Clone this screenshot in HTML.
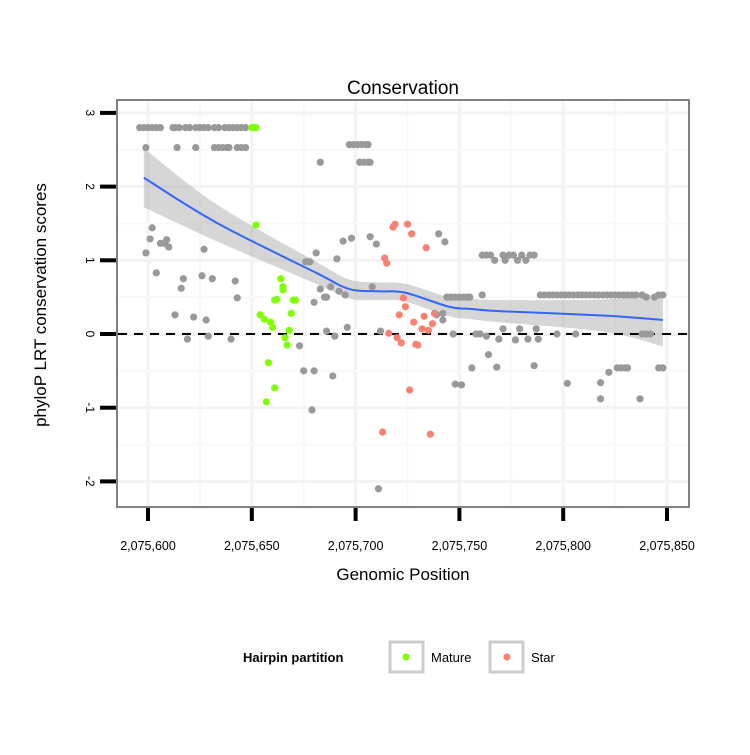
<!DOCTYPE html>
<html><head><meta charset="utf-8"><style>
body{margin:0;background:#fff;}
svg text{font-family:"Liberation Sans",sans-serif;}
</style></head><body>
<svg id="chart" width="750" height="750" viewBox="0 0 750 750" xmlns="http://www.w3.org/2000/svg">
<rect width="750" height="750" fill="#fff"/>
<text x="403" y="94" font-size="19" text-anchor="middle">Conservation</text>
<g id="grid"></g>
<g id="ribbon-g"></g>
<line id="zero" stroke="#000" stroke-width="2" stroke-dasharray="9,7"/>
<g id="points"></g>
<g id="line-g"></g>
<rect x="117" y="100" width="572" height="407" fill="none" stroke="#808080" stroke-width="2"/>
<g id="axes"></g>
<text x="403" y="580" font-size="17" text-anchor="middle">Genomic Position</text>
<text x="46" y="305" font-size="17" text-anchor="middle" transform="rotate(-90 46 305)">phyloP LRT conservation scores</text>
<g>
<text x="243" y="662" font-size="13" font-weight="bold">Hairpin partition</text>
<rect x="390" y="642" width="33" height="30" fill="#fff" stroke="#ccc" stroke-width="3"/>
<circle cx="406" cy="657" r="3.5" fill="#7FFF00"/>
<text x="431" y="662" font-size="13">Mature</text>
<rect x="490" y="642" width="33" height="30" fill="#fff" stroke="#ccc" stroke-width="3"/>
<circle cx="507" cy="657" r="3.5" fill="#FA8072"/>
<text x="531" y="662" font-size="13">Star</text>
</g>
</svg>
<script>
const X0 = 2075600;
const xTicks = [0,50,100,150,200,250];
const xTickLabels = ["2,075,600","2,075,650","2,075,700","2,075,750","2,075,800","2,075,850"];
const yTicks = [-2,-1,0,1,2,3];
const yTickLabels = ["-2","-1","0","1","2","3"];
const grayX = [-4,-2,0,2,4,6,12,13,15,18,20,23,25,27,29,32,34,37,39,41,43,45,47,
 -1,14,23,32,34,36,38,39,43,45,47, 97,99,101,103,105,106, 83,102,104,106,107,
 2,1,9,10,8,6,-1,27,4,17,16,26,31,42,43,13,22,28,19,29,40,
 81,91,94,98,76,78,83,88,92,95,80,85,86,86,90,96,73,75,80,89,79,
 107,110,108,112,111,140,143,139,142,142,
 144,146,148,150,152,154,155,161,
 161,163,165,167,171,172,174,176,178,180,182,184,186,
 147,158,160,163,169,171,177,179,183,187,188,197,206,238,240,242,
 164,156,168,186,222,226,228,230,231,246,248,151,148,202,218,237,218,
 189,191,193,195,197,199,201,203,205,207,209,211,213,215,217,219,221,223,225,227,229,231,233,235,238,240,244,246,248];
const grayY = [2.8,2.8,2.8,2.8,2.8,2.8,2.8,2.8,2.8,2.8,2.8,2.8,2.8,2.8,2.8,2.8,2.8,2.8,2.8,2.8,2.8,2.8,2.8,
 2.53,2.53,2.53,2.53,2.53,2.53,2.53,2.53,2.53,2.53,2.53, 2.57,2.57,2.57,2.57,2.57,2.57, 2.33,2.33,2.33,2.33,2.33,
 1.44,1.29,1.28,1.18,1.23,1.23,1.10,1.15,0.83,0.75,0.62,0.79,0.75,0.72,0.49,0.26,0.23,0.19,-0.07,-0.03,-0.07,
 1.10,1.02,1.26,1.30,0.98,0.98,0.61,0.64,0.58,0.53,0.43,0.50,0.50,0.04,-0.03,0.09,-0.16,-0.50,-0.50,-0.57,-1.03,
 1.32,1.22,0.64,0.04,-2.10,1.36,1.25,0.26,0.19,0.28,
 0.5,0.5,0.5,0.5,0.5,0.5,0.5,0.53,
 1.07,1.07,1.07,1.0,1.07,1.0,1.07,1.07,1.0,1.07,1.0,1.07,1.07,
 0,0,0,-0.03,-0.07,0.07,-0.08,0.07,-0.07,0.07,-0.07,0,0,0,0,0,
 -0.28,-0.46,-0.45,-0.43,-0.52,-0.46,-0.46,-0.46,-0.46,-0.46,-0.46,-0.69,-0.68,-0.67,-0.66,-0.88,-0.88,
 0.53,0.53,0.53,0.53,0.53,0.53,0.53,0.53,0.53,0.53,0.53,0.53,0.53,0.53,0.53,0.53,0.53,0.53,0.53,0.53,0.53,0.53,0.53,0.53,0.53,0.5,0.5,0.53,0.53];
const matureX = [50,51,52,52,64,65,65,62,71,69,54,56,59,60,68,66,67,58,61,57,61,70];
const matureY = [2.8,2.8,2.8,1.48,0.75,0.64,0.6,0.47,0.46,0.28,0.26,0.2,0.16,0.09,0.05,-0.05,-0.15,-0.39,-0.73,-0.92,0.46,0.46];
const starX = [118,119,125,127,134,114,115,123,124,121,128,133,138,137,132,135,116,120,122,129,130,126,113,136];
const starY = [1.45,1.49,1.49,1.36,1.17,1.03,0.96,0.49,0.37,0.26,0.16,0.24,0.28,0.14,0.07,0.05,0.01,-0.05,-0.12,-0.14,-0.15,-0.76,-1.33,-1.36];
const fitX = [-2,33,81,97,111,124,145,156,169,220,248];
const fitY = [2.12,1.51,0.83,0.61,0.58,0.56,0.37,0.34,0.31,0.25,0.19];
const fitSE = [0.40,0.25,0.15,0.13,0.12,0.12,0.13,0.14,0.15,0.22,0.36];

const sx = v => 148 + v * 2.076;
const sy = v => 334 - v * 73.7;
const NS = "http://www.w3.org/2000/svg";
function mk(tag, attrs, parent){const e=document.createElementNS(NS,tag);for(const k in attrs)e.setAttribute(k,attrs[k]);parent.appendChild(e);return e;}
// Catmull-Rom smooth path through pixel points
function smooth(p, start){
  let d = (start?'M':'L')+p[0][0]+','+p[0][1];
  for(let i=0;i<p.length-1;i++){
    const p0=p[Math.max(i-1,0)],p1=p[i],p2=p[i+1],p3=p[Math.min(i+2,p.length-1)];
    const c1=[p1[0]+(p2[0]-p0[0])/6,p1[1]+(p2[1]-p0[1])/6];
    const c2=[p2[0]-(p3[0]-p1[0])/6,p2[1]-(p3[1]-p1[1])/6];
    d+=' C'+c1[0]+','+c1[1]+' '+c2[0]+','+c2[1]+' '+p2[0]+','+p2[1];
  }
  return d;
}

const grid = document.getElementById('grid');
for (let i=0;i<xTicks.length;i++){
  const g = mk('line',{x1:sx(xTicks[i]),x2:sx(xTicks[i]),y1:101,y2:506,stroke:'#f3f3f3','stroke-width':3},grid);
  
  
  if(i<xTicks.length-1){const m=(xTicks[i]+xTicks[i+1])/2;
    const gm = mk('line',{x1:sx(m),x2:sx(m),y1:101,y2:506,stroke:'#f8f8f8','stroke-width':2},grid);
    
    }
}
for (let i=0;i<yTicks.length;i++){
  const g = mk('line',{x1:118,x2:688,y1:sy(yTicks[i]),y2:sy(yTicks[i]),stroke:'#f3f3f3','stroke-width':3},grid);
  
  
  if(i<yTicks.length-1){const m=(yTicks[i]+yTicks[i+1])/2;
    const gm = mk('line',{x1:118,x2:688,y1:sy(m),y2:sy(m),stroke:'#f8f8f8','stroke-width':2},grid);
    
    }
}
const z=document.getElementById('zero');
z.setAttribute('x1',118);z.setAttribute('x2',688);z.setAttribute('y1',sy(0));z.setAttribute('y2',sy(0));

const upP=fitX.map((x,i)=>[sx(x),sy(fitY[i]+fitSE[i])]);
const loP=fitX.map((x,i)=>[sx(x),sy(fitY[i]-fitSE[i])]).reverse();
const rib = mk('path',{d:smooth(upP,true)+' '+smooth(loP,false)+' Z',fill:'#999','fill-opacity':0.4},document.getElementById('ribbon-g'));



const pts=document.getElementById('points');
function draw(xs,ys,col,name){for(let i=0;i<xs.length;i++){
  const c=mk('circle',{cx:sx(xs[i]),cy:sy(ys[i]),r:3.6,fill:col},pts);
  
  }}
draw(grayX,grayY,'#999999','point-other');
draw(matureX,matureY,'#7FFF00','point-mature');
draw(starX,starY,'#FA8072','point-star');

const ln = mk('path',{d:smooth(fitX.map((x,i)=>[sx(x),sy(fitY[i])]),true),fill:'none',stroke:'#3366FF','stroke-width':2},document.getElementById('line-g'));



const ax=document.getElementById('axes');
for(let i=0;i<xTicks.length;i++){
  const t=mk('line',{x1:sx(xTicks[i]),x2:sx(xTicks[i]),y1:508,y2:521,stroke:'#000','stroke-width':4},ax);
  
  
  const l=mk('text',{x:sx(xTicks[i]),y:550,'font-size':12.5,'text-anchor':'middle'},ax);
  l.textContent=xTickLabels[i];
  
  
}
for(let i=0;i<yTicks.length;i++){
  const t=mk('line',{x1:100,x2:116,y1:sy(yTicks[i]),y2:sy(yTicks[i]),stroke:'#000','stroke-width':4},ax);
  
  
  const yy=sy(yTicks[i]);
  const l=mk('text',{x:86,y:yy,'font-size':12,'text-anchor':'middle',transform:'rotate(90 86 '+yy+')'},ax);
  l.textContent=yTickLabels[i];
  
  
}
</script>
</body></html>
